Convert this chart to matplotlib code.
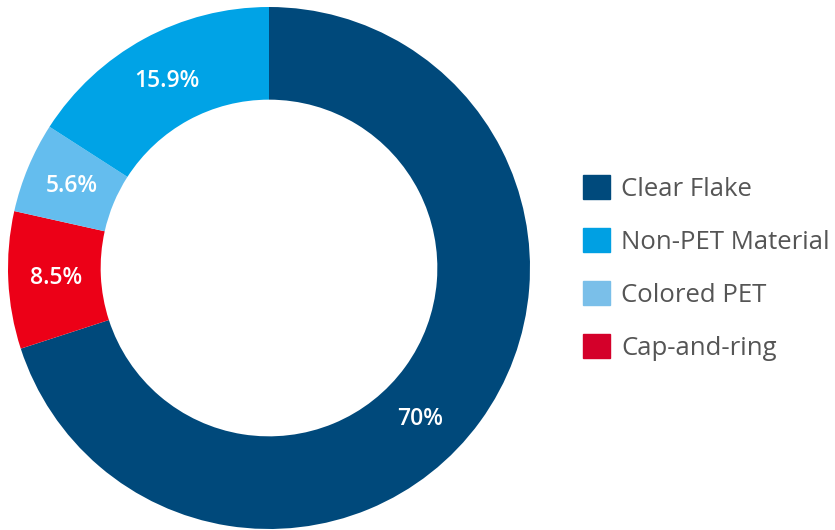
import numpy as np
import matplotlib
matplotlib.use("Agg")
import matplotlib.pyplot as plt

# slice data, in drawing order (clockwise from 12 o'clock)
categories = ["Clear Flake", "Cap-and-ring", "Colored PET", "Non-PET Material"]
values = [70.0, 8.5, 5.6, 15.9]
labels = ["70%", "8.5%", "5.6%", "15.9%"]
colors = ["#00497b", "#ec0017", "#64bdee", "#00a3e6"]

legend_order = ["Clear Flake", "Non-PET Material", "Colored PET", "Cap-and-ring"]
legend_colors = {"Clear Flake": "#004a7c", "Non-PET Material": "#00a0e3",
                 "Colored PET": "#7abfe9", "Cap-and-ring": "#d4002a"}

plt.rcParams["font.family"] = ["Open Sans", "DejaVu Sans"]

fig = plt.figure(figsize=(8.35, 5.30), dpi=100)
ax = fig.add_axes([8 / 835, 1 / 530, 522 / 835, 522 / 530])

wedges, _ = ax.pie(values, colors=colors, startangle=90, counterclock=False,
                   radius=1.0, wedgeprops=dict(width=0.355, linewidth=0))
ax.set_xlim(-1, 1)
ax.set_ylim(-1, 1)
ax.set_aspect("equal")

# percentage labels in the ring
r_lab = 0.817
for w, txt in zip(wedges, labels):
    ang = (w.theta1 + w.theta2) / 2
    if txt == "70%":
        ang = -45  # big slice label sits lower than its mid-angle
    a = np.deg2rad(ang)
    ax.text(r_lab * np.cos(a), r_lab * np.sin(a), txt, ha="center", va="center",
            color="white", fontsize=16.5, fontweight="semibold")

handles = [plt.Rectangle((0, 0), 1, 1, color=legend_colors[c]) for c in legend_order]
fig.legend(handles, legend_order, loc="upper left",
           bbox_to_anchor=(583 / 835, 1 - 175 / 530), frameon=False,
           fontsize=18.5, labelcolor="#555555", handlelength=1.05, handleheight=1.05,
           handletextpad=0.43, labelspacing=1.03, borderpad=0, borderaxespad=0)

fig.savefig("out.png", dpi=100)
